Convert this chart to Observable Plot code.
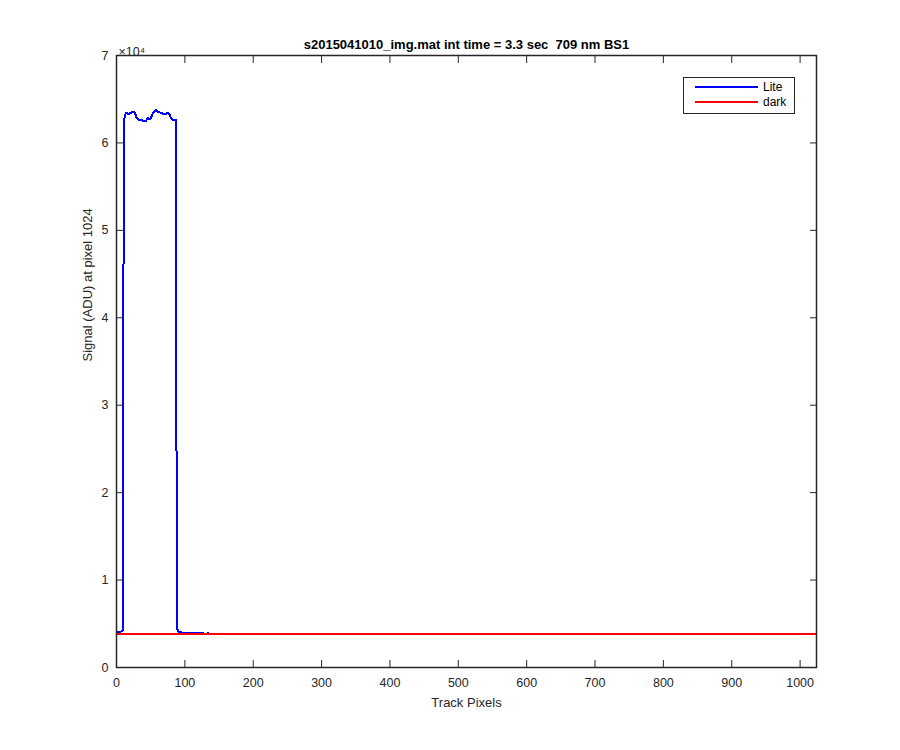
<!DOCTYPE html>
<html>
<head>
<meta charset="utf-8">
<script src="https://cdn.jsdelivr.net/npm/d3@7"></script>
<script src="https://cdn.jsdelivr.net/npm/@observablehq/plot@0.6"></script>
<style>
  html, body { margin: 0; padding: 0; background: #fff; }
  #wrap { position: relative; width: 900px; height: 750px; font-family: "Liberation Sans", Arial, sans-serif; }
  #legend { position: absolute; left: 683px; top: 77px; width: 112px; height: 37px; border: 1.5px solid #262626; background: #fff; box-sizing: border-box; }
  #legend svg { display: block; }
</style>
</head>
<body>
<div id="wrap"></div>
<script>
// Track pixel index and signal (ADU)
const litePixels = [1, 5, 9, 10, 11, 13, 15, 17, 20, 24, 27, 29, 33, 39, 43, 46, 48, 51, 53, 55, 58, 61, 66, 69, 72, 75, 78, 80, 83, 87, 88, 89, 90, 92, 96, 110, 127, 128, 133, 134, 135, 200, 400, 600, 800, 1024];
const liteValues = [4100, 4050, 4200, 40000, 62600, 63300, 63500, 63250, 63400, 63600, 63500, 62900, 62650, 62550, 62500, 62900, 62650, 62950, 63400, 63600, 63800, 63550, 63400, 63300, 63250, 63500, 63200, 62750, 62650, 62650, 14200, 4400, 4200, 4050, 4000, 3980, 3970, 3855, 3855, 3950, 3855, 3855, 3855, 3855, 3855, 3855];
const darkPixels = [1, 1024];
const darkValues = [3855, 3855];
const xTicks = [0, 100, 200, 300, 400, 500, 600, 700, 800, 900, 1000];
const yTicks = [0, 10000, 20000, 30000, 40000, 50000, 60000, 70000];
const titleText = "s2015041010_img.mat int time = 3.3 sec  709 nm BS1";
const xLabel = "Track Pixels";
const yLabel = "Signal (ADU) at pixel 1024";
const seriesNames = ["Lite", "dark"];
const seriesColors = ["#0000ff", "#ff0000"];

const lite = litePixels.map((p, i) => ({pixel: p, value: liteValues[i]}));
const dark = darkPixels.map((p, i) => ({pixel: p, value: darkValues[i]}));

const axisColor = "#262626";
const chart = Plot.plot({
  width: 900,
  height: 750,
  marginLeft: 116,
  marginRight: 84,
  marginTop: 55,
  marginBottom: 83,
  style: {fontFamily: "Liberation Sans, Arial, sans-serif", fontSize: "12.5px", color: axisColor, background: "#fff"},
  x: {domain: [0, 1024]},
  y: {domain: [0, 70000]},
  marks: [
    Plot.line(lite, {x: "pixel", y: "value", stroke: seriesColors[0], strokeWidth: 2, strokeLinejoin: "miter", shapeRendering: "crispEdges"}),
    Plot.line(dark, {x: "pixel", y: "value", stroke: seriesColors[1], strokeWidth: 2, shapeRendering: "crispEdges"}),
    Plot.axisX({anchor: "bottom", ticks: xTicks, tickSize: -7, tickPadding: 18, stroke: axisColor, fill: axisColor, label: null, tickFormat: d => String(d)}),
    Plot.axisX({anchor: "top", ticks: xTicks, tickSize: -7, stroke: axisColor, label: null, tickFormat: () => ""}),
    Plot.axisY({anchor: "left", ticks: yTicks, tickSize: -7, tickPadding: 15, stroke: axisColor, fill: axisColor, label: null, tickFormat: d => String(d / 10000)}),
    Plot.axisY({anchor: "right", ticks: yTicks, tickSize: -7, stroke: axisColor, label: null, tickFormat: () => ""}),
    Plot.frame({stroke: axisColor, strokeWidth: 1.5}),
    Plot.text([titleText], {frameAnchor: "top", dy: -16, text: d => d, fontWeight: "bold", fontSize: 13, fill: "#000"}),
    Plot.text([xLabel], {frameAnchor: "bottom", dy: 39, text: d => d, fontSize: 13, fill: axisColor}),
    Plot.text([yLabel], {frameAnchor: "left", dx: -29, rotate: -90, text: d => d, fontSize: 13, fill: axisColor}),
    Plot.text(["×10⁴"], {frameAnchor: "top-left", dx: 2, dy: -8, textAnchor: "start", text: d => d, fontSize: 12.5, fill: axisColor})
  ]
});
const wrap = document.getElementById("wrap");
wrap.appendChild(chart);

// Legend overlay
const leg = document.createElement("div");
leg.id = "legend";
const svgNS = "http://www.w3.org/2000/svg";
const lsvg = document.createElementNS(svgNS, "svg");
lsvg.setAttribute("width", "109");
lsvg.setAttribute("height", "34");
seriesNames.forEach((name, i) => {
  const y = 9 + i * 15;
  const ln = document.createElementNS(svgNS, "line");
  ln.setAttribute("x1", 11); ln.setAttribute("x2", 74);
  ln.setAttribute("y1", y); ln.setAttribute("y2", y);
  ln.setAttribute("stroke", seriesColors[i]); ln.setAttribute("stroke-width", 2);
  lsvg.appendChild(ln);
  const t = document.createElementNS(svgNS, "text");
  t.setAttribute("x", 79); t.setAttribute("y", y + 4);
  t.setAttribute("font-size", "12px");
  t.setAttribute("font-family", "Liberation Sans, Arial, sans-serif");
  t.setAttribute("fill", "#000");
  t.textContent = name;
  lsvg.appendChild(t);
});
leg.appendChild(lsvg);
wrap.appendChild(leg);
</script>
</body>
</html>
